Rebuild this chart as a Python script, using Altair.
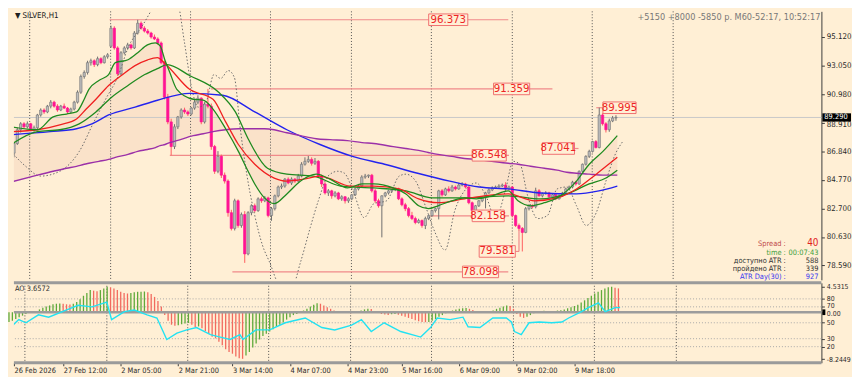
import json
import altair as alt
import pandas as pd

FONT = "Liberation Sans Narrow, Arial Narrow, DejaVu Sans Condensed, Liberation Sans, sans-serif"
BG = "#FFEFD5"

# ---------------- candles (H1 bars) ----------------
opens = [86.70, 87.40, 88.40, 88.83, 88.61, 88.83, 88.40, 88.54, 89.47, 89.83,
         89.69, 90.11, 90.40, 90.11, 89.83, 90.11, 89.97, 89.69, 89.90, 90.40,
         91.12, 92.26, 92.55, 93.26, 93.40, 93.12, 93.55, 93.26, 93.69, 94.45,
         95.76, 94.33, 92.45, 93.98, 94.33, 94.55, 94.33, 95.41, 96.12, 95.76,
         95.55, 95.41, 95.12, 94.98, 94.69, 93.26, 90.76, 88.97, 87.18, 88.61,
         89.33, 89.83, 89.69, 89.54, 89.97, 90.40, 90.69, 88.97, 90.26, 90.11,
         87.18, 85.39, 86.47, 85.11, 84.68, 82.39, 81.25, 83.25, 81.46, 82.25,
         79.40, 82.39, 82.89, 82.54, 83.39, 83.25, 83.46, 82.18, 82.68, 83.61,
         84.25, 84.32, 84.82, 84.54, 84.82, 84.68, 85.04, 85.90, 86.11, 86.25,
         85.97, 86.11, 85.04, 84.47, 83.82, 83.97, 83.61, 83.82, 83.39, 83.54,
         83.25, 83.39, 83.68, 84.11, 84.32, 84.97, 85.04, 85.11, 83.97, 83.25,
         82.89, 83.61, 83.82, 83.97, 84.04, 84.11, 83.39, 82.96, 82.68, 82.18,
         81.96, 81.68, 81.82, 81.46, 81.96, 82.18, 82.54, 82.68, 83.97, 83.68,
         84.11, 83.97, 84.25, 84.11, 84.39, 84.47, 84.25, 83.11, 82.54, 82.89,
         83.25, 83.54, 83.82, 84.04, 84.18, 84.25, 84.32, 84.39, 84.11, 84.25,
         82.18, 81.46, 81.25, 80.96, 82.68, 82.89, 82.82, 83.97, 83.61, 83.75,
         83.82, 83.54, 83.68, 83.39, 83.61, 83.82, 84.11, 84.25, 84.60, 84.47,
         85.39, 85.90, 86.47, 86.83, 87.54, 87.11, 89.47, 88.83, 88.40, 89.04,
         89.25]
highs = [87.45, 88.55, 88.95, 88.95, 89.00, 88.90, 88.70, 89.55, 89.95, 89.95,
         90.20, 90.55, 90.50, 90.25, 90.20, 90.30, 90.05, 90.00, 90.50, 91.25,
         92.40, 92.70, 93.40, 93.55, 93.50, 93.70, 93.65, 93.80, 93.95, 95.95,
         95.90, 94.45, 94.10, 94.45, 94.70, 94.65, 95.55, 96.37, 96.25, 95.90,
         95.70, 95.50, 95.30, 95.10, 94.80, 93.40, 91.00, 89.20, 88.80, 89.40,
         89.95, 90.00, 89.80, 90.05, 90.55, 90.90, 90.75, 90.40, 91.36, 90.30,
         87.30, 86.85, 86.60, 85.30, 84.80, 82.60, 83.40, 83.35, 82.40, 82.50,
         82.50, 83.00, 83.05, 83.50, 83.55, 83.60, 83.55, 82.80, 83.70, 84.35,
         84.50, 84.90, 84.95, 84.95, 84.90, 85.20, 86.05, 86.40, 86.50, 86.40,
         86.35, 86.20, 85.15, 84.60, 84.10, 84.05, 83.95, 83.90, 83.65, 83.60,
         83.50, 83.75, 84.20, 84.40, 85.10, 85.20, 85.15, 85.20, 84.10, 83.40,
         83.65, 83.90, 84.05, 84.10, 84.20, 84.20, 83.50, 83.10, 82.80, 82.45,
         82.10, 81.95, 81.90, 82.10, 82.25, 82.60, 82.75, 84.05, 84.10, 84.20,
         84.30, 84.40, 84.35, 84.55, 84.60, 84.55, 84.30, 83.20, 82.95, 83.30,
         83.60, 83.90, 84.15, 84.30, 84.35, 84.45, 84.50, 84.60, 84.35, 84.30,
         82.25, 81.60, 81.35, 82.80, 83.00, 83.00, 84.20, 84.10, 83.85, 83.95,
         83.90, 83.75, 83.75, 83.70, 83.90, 84.20, 84.35, 84.70, 84.70, 85.45,
         85.95, 86.55, 86.95, 87.60, 87.65, 90.00, 89.60, 88.95, 89.20, 89.40,
         89.45]
lows = [86.40, 87.30, 88.20, 88.50, 88.50, 88.30, 88.25, 88.45, 89.35, 89.55,
        89.60, 89.95, 90.00, 89.70, 89.75, 89.90, 89.55, 89.60, 89.80, 90.30,
        91.00, 92.10, 92.40, 93.05, 92.95, 93.00, 93.15, 93.20, 93.55, 94.35,
        94.20, 92.30, 92.35, 93.85, 94.20, 94.20, 94.25, 95.30, 95.65, 95.45,
        95.30, 95.00, 94.90, 94.55, 93.15, 90.60, 88.80, 86.55, 87.00, 88.45,
        89.20, 89.55, 89.40, 89.45, 89.85, 90.25, 88.80, 88.85, 89.95, 86.95,
        85.20, 85.25, 84.90, 84.50, 82.10, 81.10, 81.10, 81.30, 81.30, 78.75,
        79.30, 82.20, 82.40, 82.45, 83.10, 83.15, 82.05, 81.80, 82.55, 83.50,
        84.10, 84.20, 84.45, 84.40, 84.55, 84.60, 84.95, 85.80, 86.00, 85.80,
        85.85, 84.90, 84.25, 83.70, 83.60, 83.40, 83.50, 83.30, 83.25, 83.05,
        83.10, 83.30, 83.60, 84.00, 84.20, 84.85, 84.90, 83.85, 83.10, 82.75,
        80.60, 83.50, 83.70, 83.85, 83.95, 83.30, 82.85, 82.50, 82.05, 81.85,
        81.55, 81.60, 81.30, 81.20, 81.85, 82.10, 82.40, 81.90, 83.55, 83.60,
        83.85, 83.90, 84.00, 84.05, 84.30, 84.15, 83.00, 82.16, 82.30, 82.80,
        83.15, 82.70, 83.75, 83.95, 84.10, 84.20, 84.25, 84.00, 84.05, 82.05,
        81.35, 81.10, 79.58, 80.90, 82.55, 82.70, 82.70, 83.55, 83.50, 83.70,
        83.45, 83.45, 83.30, 83.35, 83.55, 83.75, 84.00, 84.15, 84.35, 84.40,
        85.30, 85.80, 86.35, 86.75, 87.04, 87.05, 88.70, 88.20, 88.25, 88.95,
        89.05]
closes = [87.40, 88.40, 88.83, 88.61, 88.83, 88.40, 88.54, 89.47, 89.83, 89.69,
          90.11, 90.40, 90.11, 89.83, 90.11, 89.97, 89.69, 89.90, 90.40, 91.12,
          92.26, 92.55, 93.26, 93.40, 93.12, 93.55, 93.26, 93.69, 93.83, 95.76,
          94.33, 92.45, 93.98, 94.33, 94.55, 94.33, 95.41, 96.12, 95.76, 95.55,
          95.41, 95.12, 94.98, 94.69, 93.26, 90.76, 88.97, 87.18, 88.61, 89.33,
          89.83, 89.69, 89.54, 89.97, 90.40, 90.69, 88.97, 90.26, 90.11, 87.18,
          85.39, 86.47, 85.11, 84.68, 82.39, 81.25, 83.25, 81.46, 82.25, 79.40,
          82.39, 82.89, 82.54, 83.39, 83.25, 83.46, 82.18, 82.68, 83.61, 84.25,
          84.32, 84.82, 84.54, 84.82, 84.68, 85.04, 85.90, 86.11, 86.25, 85.97,
          86.11, 85.04, 84.47, 83.82, 83.97, 83.61, 83.82, 83.39, 83.54, 83.25,
          83.39, 83.68, 84.11, 84.32, 84.97, 85.04, 85.11, 83.97, 83.25, 82.89,
          83.61, 83.82, 83.97, 84.04, 84.11, 83.39, 82.96, 82.68, 82.18, 81.96,
          81.68, 81.82, 81.46, 81.96, 82.18, 82.54, 82.68, 83.97, 83.68, 84.11,
          83.97, 84.25, 84.11, 84.39, 84.47, 84.25, 83.11, 82.54, 82.89, 83.25,
          83.54, 83.82, 84.04, 84.18, 84.25, 84.32, 84.39, 84.11, 84.25, 82.18,
          81.46, 81.25, 80.96, 82.68, 82.89, 82.82, 83.97, 83.61, 83.75, 83.82,
          83.54, 83.68, 83.39, 83.61, 83.82, 84.11, 84.25, 84.60, 84.47, 85.39,
          85.90, 86.47, 86.83, 87.54, 87.11, 89.47, 88.83, 88.40, 89.04, 89.25,
          89.29]

# ---------------- moving averages (read at sample bars) ----------------
band_bar = [-0.9, 7.0, 11.7, 15.7, 18.7, 21.0, 22.4, 25.4, 28.3, 30.3, 34.1, 37.0, 39.9,
            42.3, 43.7, 45.2, 46.6, 48.7, 53.6, 56.6, 59.5, 63.3, 67.1, 70.0, 72.0, 74.9,
            77.8, 81.6, 85.7, 90.4, 94.5, 99.7, 104.1, 107.6, 113.4, 117.2, 121.0, 123.9,
            126.8, 130.9, 134.7, 138.2, 142.9, 147.8, 150.7, 154.5, 158.6, 162.4, 165.3,
            168.2, 172.0, 176.1, 180.4]
fast_ma = [88.61, 88.40, 89.33, 89.54, 89.69, 90.61, 91.33, 91.97, 92.40, 93.26, 93.47,
           93.98, 94.55, 94.69, 94.48, 93.40, 92.55, 91.33, 90.61, 90.54, 89.90, 88.47,
           86.83, 85.39, 84.47, 83.46, 83.04, 83.75, 84.68, 85.18, 84.82, 84.18, 84.47,
           84.47, 84.18, 83.75, 82.89, 82.68, 82.89, 83.25, 83.46, 83.39, 83.61, 83.97,
           83.25, 82.89, 83.11, 83.46, 83.97, 84.68, 85.90, 86.83, 87.97]
purple_ma = [84.61, 85.11, 85.39, 85.61, 85.75, 85.90, 85.97, 86.11, 86.25, 86.40, 86.61,
             86.83, 86.97, 87.11, 87.25, 87.33, 87.47, 87.61, 87.97, 88.11, 88.26, 88.40,
             88.47, 88.47, 88.47, 88.47, 88.40, 88.18, 87.97, 87.75, 87.68, 87.61, 87.47,
             87.40, 87.18, 87.04, 86.90, 86.75, 86.61, 86.47, 86.32, 86.25, 86.11, 85.97,
             85.90, 85.75, 85.61, 85.47, 85.32, 85.25, 85.18, 85.11, 85.11]
red_bar = [-0.9, 7.0, 13.7, 18.7, 21.6, 24.5, 28.3, 32.1, 36.2, 40.0, 42.9, 44.9, 52.5,
           59.5, 63.3, 67.1, 72.0, 77.8, 81.6, 86.6, 91.5, 93.9, 100.6, 107.6, 115.2,
           121.0, 126.8, 134.7, 147.8, 155.7, 162.4, 168.2, 174.1, 180.4]
red_ma = [88.26, 88.40, 88.76, 89.18, 89.90, 90.61, 91.61, 92.33, 93.05, 93.47, 93.62,
          93.26, 91.33, 90.61, 88.97, 87.33, 85.90, 84.90, 84.68, 84.82, 85.04, 84.90,
          84.32, 84.32, 84.11, 83.39, 83.11, 83.39, 83.75, 83.25, 83.46, 84.11, 85.18, 86.40]
slow_bar = [-0.9, 7.0, 13.7, 19.5, 24.5, 29.2, 34.1, 39.1, 42.9, 45.8, 52.5, 61.2, 66.2,
            70.0, 75.8, 81.6, 89.5, 97.7, 107.6, 117.2, 125.1, 134.7, 147.8, 157.4, 165.3,
            172.0, 177.0, 180.4]
slow_ma = [87.33, 88.26, 88.40, 88.83, 89.69, 90.76, 91.61, 92.40, 92.83, 93.12, 92.33,
           91.12, 89.69, 87.75, 85.61, 85.18, 85.04, 84.32, 84.18, 83.97, 83.46, 83.46,
           83.61, 83.39, 83.75, 84.47, 84.90, 85.47]
blue_bar = [-0.9, 10.8, 18.7, 23.3, 28.3, 36.2, 42.9, 52.5, 62.4, 72.0, 81.6, 91.5, 101.2,
            110.8, 120.7, 130.3, 139.1, 147.8, 157.4, 168.2, 174.9, 180.4]
blue_ma = [88.04, 88.26, 88.47, 88.83, 89.47, 90.04, 90.54, 91.04, 90.90, 89.69, 88.40,
           87.33, 86.47, 85.90, 85.25, 84.68, 84.25, 84.11, 83.82, 83.75, 83.97, 84.32]
dot_bar = [-0.9, 3.5, 7.9, 13.7, 19.5, 23.9, 27.4, 31.2, 34.1, 38.5, 42.9, 45.8, 48.7,
           51.0, 53.1, 55.1, 57.4, 59.8, 61.8, 64.1, 65.9, 67.6, 69.7, 72.0, 74.3, 76.4,
           79.3, 82.8, 85.7, 88.6, 91.0, 93.9, 96.8, 98.8, 101.7, 104.7, 107.6, 111.4,
           115.2, 117.2, 120.1, 123.0, 125.9, 128.9, 131.8, 134.7, 138.2, 141.1, 144.0,
           146.9, 149.3, 151.3, 153.6, 156.6, 159.5, 162.4, 165.3, 168.2, 171.1, 174.1,
           177.0, 179.9, 182.0]
dot_val = [86.82, 85.75, 85.04, 85.39, 86.82, 88.97, 90.61, 92.33, 94.33, 95.98, 97.76,
           98.60, 97.90, 94.69, 91.47, 90.04, 90.40, 92.40, 92.12, 92.69, 92.19, 88.61,
           85.04, 82.18, 80.03, 78.82, 77.17, 76.80, 78.82, 81.32, 83.25, 85.04, 85.39,
           85.25, 83.75, 82.03, 83.04, 83.25, 85.04, 85.18, 84.68, 82.89, 80.96, 79.68,
           82.53, 83.97, 84.54, 83.61, 81.96, 83.97, 86.11, 85.90, 83.61, 81.96, 82.18,
           84.11, 84.25, 82.89, 81.46, 82.39, 84.68, 86.68, 87.54]

# ---------------- lower panel: AO histogram + cyan oscillator ----------------
ao = [-1.7, -1.5, -1.2, -0.9, -0.6, -0.3, -0.1, 0.05, 0.2, 0.5,
      0.8, 1.0, 1.2, 1.4, 1.5, 1.55, 1.5, 1.4, 1.35, 1.5,
      1.8, 2.3, 2.9, 3.4, 3.9, 3.8, 3.7, 3.9, 4.2, 4.5,
      4.4, 4.2, 3.9, 3.6, 3.4, 3.3, 3.4, 3.5, 3.6, 3.62,
      3.65, 3.5, 3.2, 2.7, 2.0, 1.0, -0.5, -1.5, -2.2, -2.4,
      -2.3, -2.1, -2.0, -1.9, -2.2, -2.6, -2.5, -2.8, -3.3, -3.8,
      -4.3, -4.6, -5.2, -5.8, -6.5, -7.0, -7.3, -7.8, -8.1, -8.2,
      -7.6, -7.0, -6.2, -5.5, -4.8, -4.2, -3.8, -3.4, -3.0, -2.6,
      -2.2, -1.8, -1.3, -0.9, -0.5, -0.3, -0.1, 0.3, 0.6, 1.0,
      1.3, 1.6, 1.5, 1.2, 0.9, 0.6, 0.3, 0.1, 0.05, 0.0,
      -0.1, -0.2, -0.15, 0.1, 0.3, 0.5, 0.6, 0.55, 0.2, -0.1,
      -0.3, -0.4, -0.5, -0.35, -0.3, -0.45, -0.6, -0.8, -1.0, -1.2,
      -1.4, -1.6, -1.7, -1.75, -1.7, -1.5, -1.2, -0.8, -0.5, -0.2,
      0.1, 0.3, 0.5, 0.6, 0.7, 0.75, 0.6, 0.4, 0.2, 0.0,
      -0.1, -0.05, 0.1, 0.3, 0.6, 0.8, 1.0, 1.2, 1.1, 0.6,
      -0.3, -0.8, -1.0, -0.8, -0.5, -0.2, 0.1, 0.2, 0.25, 0.2,
      0.15, 0.2, 0.3, 0.35, 0.5, 0.7, 0.9, 1.1, 1.3, 1.7,
      2.1, 2.5, 2.9, 3.3, 3.6, 3.9, 4.2, 4.4, 4.5, 4.3,
      4.2]
cyan_bar = [-0.9, 2.9, 5.0, 8.7, 11.7, 18.7, 20.4, 24.5, 28.9, 30.3, 34.1, 37.0, 40.8,
            43.7, 46.6, 49.6, 52.5, 55.4, 59.5, 62.4, 65.3, 68.2, 69.1, 72.9, 77.0, 81.6,
            87.5, 92.4, 96.2, 101.2, 104.1, 107.0, 110.8, 115.7, 121.6, 124.5, 126.5,
            130.3, 134.1, 135.6, 139.1, 142.9, 146.9, 148.4, 149.3, 151.3, 153.6, 156.6,
            160.3, 163.3, 165.3, 169.1, 171.1, 174.1, 176.1, 179.0, 180.5]
cyan_val = [39, 54, 50, 60, 57, 69, 72, 70, 76, 54, 64, 66, 60, 56, 29, 37, 41, 44, 35,
            32, 29, 35, 29, 41, 41, 50, 56, 44, 41, 47, 54, 39, 50, 39, 32, 44, 56, 54,
            57, 45, 44, 56, 56, 51, 39, 35, 50, 51, 50, 51, 56, 64, 69, 75, 64, 69, 69]
cyan_levels = [80, 70, 50, 30, 20]
ao_max_label, ao_min_label = 4.5315, -8.2449

# ---------------- annotations / axes text ----------------
level_price = [96.373, 91.359, 86.548, 82.158, 79.581, 78.098, 87.041, 89.995]
level_text = ["96.373", "91.359", "86.548", "82.158", "79.581", "78.098", "87.041", "89.995"]
level_from = [28.6, 58.9, 46.6, 124.5, 149.9, 65.3, 167.6, 174.1]
level_to = [147.8, 161.0, 148.0, 148.0, 151.0, 147.8, 168.8, 176.1]
box_from = [124.0, 143.4, 137.0, 137.0, 139.1, 134.1, 158.0, 176.1]
box_to = [135.7, 154.2, 147.2, 146.6, 149.9, 144.9, 167.6, 186.0]
sep_bars = [4.7, 28.9, 52.8, 76.7, 100.9, 124.8, 149.0, 172.9, 197.1]
time_ticks = [1.5, 16, 33, 50, 66, 83, 100, 116, 133, 150, 167]
time_labels = ["26 Feb 2026", "27 Feb 12:00", "2 Mar 05:00", "2 Mar 21:00", "3 Mar 14:00",
               "4 Mar 07:00", "4 Mar 23:00", "5 Mar 16:00", "6 Mar 09:00", "9 Mar 02:00",
               "9 Mar 18:00"]
price_ticks = [95.12, 93.05, 90.98, 88.91, 86.84, 84.77, 82.70, 80.63, 78.59]

# cyan oscillator (0..100) placed on the AO panel scale
CY_A, CY_B = -8.865, 0.14022

W, H1, H2 = 818, 272, 81
xs = alt.Scale(domain=[1.46, 239.95], nice=False, zero=False)
ys = alt.Scale(domain=[77.52, 96.98], nice=False, zero=False)
ys2 = alt.Scale(domain=[-8.90, 5.18], nice=False, zero=False)

ax_main = alt.Axis(orient="right", values=price_ticks, format=".3f", title=None, grid=False,
                   domainColor="#3c3c3c", tickColor="#3c3c3c", tickSize=3, labelPadding=2,
                   labelFont=FONT, labelFontSize=8, labelColor="#2a2a2a", labelOverlap=False,
                   labelOffset={"condition": {"test": "abs(datum.value - 88.91) < 0.01", "value": 2},
                                "value": 0})
low_vals = [ao_max_label] + [CY_A + CY_B * v for v in cyan_levels[:2]] + [0] + \
           [CY_A + CY_B * v for v in cyan_levels[2:]] + [ao_min_label]
low_expr = ("datum.value > 4 ? '%s' : datum.value < -8 ? '%s' : abs(datum.value) < 0.01 ? '0.00' : "
            "format((datum.value - (%s)) / %s, '.0f')") % (ao_max_label, ao_min_label, CY_A, CY_B)
ax_low = alt.Axis(orient="right", values=low_vals, labelExpr=low_expr, title=None, grid=False,
                  domainColor="#3c3c3c", tickColor="#3c3c3c", tickSize=3, labelPadding=2,
                  labelFont=FONT, labelFontSize=7, labelColor="#2a2a2a", labelOverlap=False,
                  labelOffset={"condition": [
                      {"test": "abs(datum.value) < 0.01", "value": 1.5},
                      {"test": "datum.value > 0.5 && datum.value < 1.5", "value": -1.5}],
                      "value": 0})
ax_time = alt.Axis(values=time_ticks, title=None, grid=False, domain=False, ticks=True, tickSize=3,
                   tickColor="#3c3c3c", labelAlign="left", labelFlush=False, labelOverlap=False,
                   labelFont=FONT, labelFontSize=7.5, labelColor="#2a2a2a", labelPadding=1,
                   labelExpr="%s[indexof(%s, datum.value)]" % (json.dumps(time_labels), json.dumps(time_ticks)))

XM = lambda f: alt.X(f, scale=xs, axis=None)
YM = lambda f: alt.Y(f, scale=ys, axis=ax_main)
XL = lambda f: alt.X(f, scale=xs, axis=ax_time)
YL = lambda f: alt.Y(f, scale=ys2, axis=ax_low)


def text(txt, x, y, color="#303030", size=8.5, align="left", baseline="middle"):
    return alt.Chart(pd.DataFrame({"t": [txt]})).mark_text(
        align=align, baseline=baseline, font=FONT, fontSize=size, color=color
    ).encode(x=alt.value(x), y=alt.value(y), text="t:N")


def line(bars, vals, color, width=1.3, **kw):
    df = pd.DataFrame({"bar": bars, "v": vals})
    return alt.Chart(df).mark_line(color=color, strokeWidth=width, clip=True, **kw).encode(
        x=XM("bar:Q"), y=YM("v:Q"))


# ---------------- main panel ----------------
cdf = pd.DataFrame({"bar": list(range(len(closes))), "open": opens, "high": highs,
                    "low": lows, "close": closes})
bull = "datum.close >= datum.open"
band_df = pd.DataFrame({"bar": band_bar, "fast": fast_ma, "purple": purple_ma})
band = alt.Chart(band_df).mark_area(color="#EDC3AE", opacity=0.3, clip=True,
                                    interpolate="monotone").encode(
    x=XM("bar:Q"), y=YM("fast:Q"), y2="purple:Q")
seps = alt.Chart(pd.DataFrame({"bar": sep_bars})).mark_rule(
    color="#505050", strokeDash=[1, 2], strokeWidth=1).encode(x=XM("bar:Q"))
last_df = pd.DataFrame({"price": [closes[-1]], "lbl": ["%.3f" % closes[-1]]})
price_line = alt.Chart(last_df).mark_rule(color="#C8C8C8", strokeWidth=1).encode(y=YM("price:Q"))

lv = pd.DataFrame({"price": level_price, "text": level_text, "x0": level_from, "x1": level_to,
                   "b0": box_from, "b1": box_to})
lv_lines = alt.Chart(lv).mark_rule(color="#F08A8A", strokeWidth=1.2).encode(
    x=XM("x0:Q"), x2="x1:Q", y=YM("price:Q"))
conn = alt.Chart(lv[lv.text == "79.581"]).transform_calculate(p2="datum.price + 1.57").mark_rule(
    color="#F08A8A", strokeWidth=1.2).encode(x=XM("x1:Q"), y=YM("price:Q"), y2="p2:Q")
lv_boxes = alt.Chart(lv).transform_calculate(
    top="datum.price + 0.42", bot="datum.price - 0.42").mark_rect(
    fill=BG, stroke="#F07070", strokeWidth=1).encode(x=XM("b0:Q"), x2="b1:Q", y=YM("top:Q"), y2="bot:Q")
lv_text = alt.Chart(lv).transform_calculate(cx="(datum.b0 + datum.b1) / 2").mark_text(
    font=FONT, fontSize=11.5, color="#EE2424").encode(x=XM("cx:Q"), y=YM("price:Q"), text="text:N")

wicks = alt.Chart(cdf).mark_rule(strokeWidth=1, clip=True).encode(
    x=XM("bar:Q"), y=YM("low:Q"), y2="high:Q",
    color=alt.condition(bull, alt.value("#6E6E6E"), alt.value("#FF5C5C")))
bodies = alt.Chart(cdf).mark_bar(width=2.3, strokeWidth=0.7, clip=True).encode(
    x=XM("bar:Q"), y=YM("open:Q"), y2="close:Q",
    fill=alt.condition(bull, alt.value("#BDBDBD"), alt.value("#FF1493")),
    stroke=alt.condition(bull, alt.value("#7A7A7A"), alt.value("#FF1493")))

dotted = line(dot_bar, dot_val, "#6A6A6A", 1, strokeDash=[1.5, 2], interpolate="monotone")
blue = line(blue_bar, blue_ma, "#2323EE", 1.4, interpolate="monotone")
purple = line(band_bar, purple_ma, "#9B30A8", 1.4, interpolate="monotone")
slow = line(slow_bar, slow_ma, "#1F8A1F", 1.3, interpolate="monotone")
red = line(red_bar, red_ma, "#F02020", 1.3, interpolate="monotone")
fast = line(band_bar, fast_ma, "#1F8A1F", 1.3, interpolate="monotone")

pbox = alt.Chart(last_df).transform_calculate(top="datum.price + 0.3", bot="datum.price - 0.3").mark_rect(
    color="#000000").encode(x=alt.value(W + 1), x2=alt.value(W + 30), y=YM("top:Q"), y2="bot:Q")
ptext = alt.Chart(last_df).mark_text(align="left", font=FONT, fontSize=7.5, color="#FFFFFF").encode(
    x=alt.value(W + 3), y=YM("price:Q"), text="lbl:N")

main = alt.layer(
    band, seps, price_line, lv_lines, conn, wicks, bodies, dotted, blue, purple, slow, red, fast,
    lv_boxes, lv_text, pbox, ptext,
    text("\u25BC SILVER,H1", 1, 5, "#202020", 8),
    text("+5150 +8000 -5850 \u0440. M60-52:17, 10:52:17", W - 1, 6, "#787878", 9.2, align="right"),
    text("Spread :", 782, 236, "#C04848", 7.5, align="right"),
    text("40", 815, 235, "#E02020", 10, align="right"),
    text("time :", 782, 245, "#3DA03D", 7.5, align="right"),
    text("00:07:43", 815, 245, "#3DA03D", 7.5, align="right"),
    text("\u0434\u043e\u0441\u0442\u0443\u043f\u043d\u043e ATR :", 782, 253, "#303030", 7.5, align="right"),
    text("588", 815, 253, "#303030", 7.5, align="right"),
    text("\u043f\u0440\u043e\u0439\u0434\u0435\u043d\u043e ATR :", 782, 261, "#303030", 7.5, align="right"),
    text("339", 815, 261, "#303030", 7.5, align="right"),
    text("ATR Day(30) :", 782, 269, "#3838F0", 7.5, align="right"),
    text("927", 815, 269, "#3838F0", 7.5, align="right"),
).properties(width=W, height=H1)

# ---------------- lower panel ----------------
adf = pd.DataFrame({"bar": list(range(len(ao))), "ao": ao})
ao_bars = alt.Chart(adf).transform_window(
    prev="lag(ao)", sort=[alt.SortField("bar")]
).transform_calculate(zero="0", up="datum.prev == null || datum.ao >= datum.prev").mark_rule(
    strokeWidth=1.3).encode(
    x=XL("bar:Q"), y=YL("ao:Q"), y2="zero:Q",
    color=alt.condition("datum.up", alt.value("#5FAA3A"), alt.value("#F26A5E")))
grid = alt.Chart(pd.DataFrame({"v": cyan_levels})).transform_calculate(
    y="%s + %s * datum.v" % (CY_A, CY_B)).mark_rule(
    color="#A8A8A8", strokeDash=[1, 2], strokeWidth=1).encode(y=YL("y:Q"))
seps2 = alt.Chart(pd.DataFrame({"bar": sep_bars})).mark_rule(
    color="#505050", strokeDash=[1, 2], strokeWidth=1).encode(x=XL("bar:Q"))
zero_df = pd.DataFrame({"z": [0.0]})
zero_line = alt.Chart(zero_df).mark_rule(color="#9C9C9C", strokeWidth=2.5).encode(y=YL("z:Q"))
cyan = alt.Chart(pd.DataFrame({"bar": cyan_bar, "v": cyan_val})).transform_calculate(
    y="%s + %s * datum.v" % (CY_A, CY_B)).mark_line(
    color="#22E2F2", strokeWidth=1.4, clip=True).encode(x=XL("bar:Q"), y=YL("y:Q"))
border_top = alt.Chart(zero_df).mark_rule(color="#9A9A9A", strokeWidth=3).encode(y=alt.value(0))
border_bot = alt.Chart(zero_df).mark_rule(color="#9A9A9A", strokeWidth=3).encode(y=alt.value(H2))
zmark = alt.Chart(zero_df).transform_calculate(t="0.5", b="-0.5").mark_rect(color="#000000").encode(
    x=alt.value(W + 1), x2=alt.value(W + 4), y=YL("t:Q"), y2="b:Q")

lower = alt.layer(
    grid, seps2, ao_bars, zero_line, cyan, border_top, border_bot, zmark,
    text("AO 3.6572", 1, 6, "#303030", 7.5),
).properties(width=W, height=H2)

chart = alt.vconcat(main, lower, spacing=3, bounds="flush").properties(
    background=BG, padding=0
).configure_view(stroke=None)

chart.save("out.html", embed_options={"renderer": "svg", "actions": False})
